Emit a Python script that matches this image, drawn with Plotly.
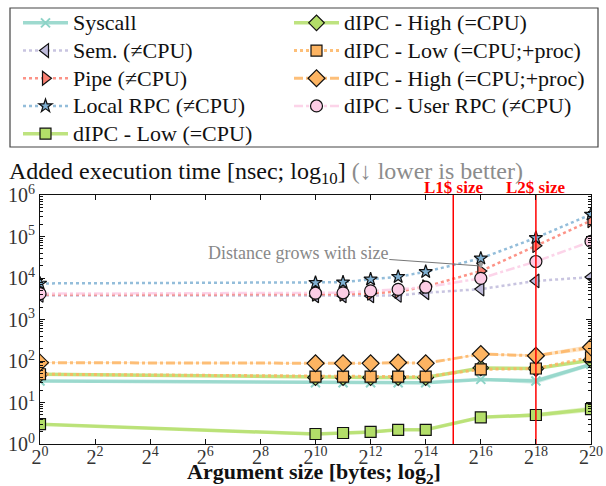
import math
import plotly.graph_objects as go

# ---------------- data ----------------
arg_sizes = [1, 1024, 2048, 4096, 8192, 16384, 65536, 262144, 1048576]

syscall        = [33, 30, 30, 30, 30, 30, 36, 33, 83]
sem            = [3800, 3700, 3700, 3700, 3800, 4400, 5400, 8500, 10500]
pipe           = [4000, 4050, 4050, 4250, 4700, 6200, 14700, 60000, 240000]
local_rpc      = [7400, 7700, 7900, 9300, 10700, 14100, 29700, 93000, 340000]
dipc_low       = [3.0, 1.74, 1.84, 1.95, 2.2, 2.2, 4.4, 5.0, 6.9]
dipc_high      = [48, 40, 40, 40, 40, 40, 68, 66, 105]
dipc_low_proc  = [48, 42, 42, 42, 42, 42, 63, 66, 123]
dipc_high_proc = [91, 88, 88, 88, 92, 88, 147, 134, 214]
user_rpc       = [4200, 4300, 4400, 4900, 5300, 6000, 9800, 25000, 76000]

# light confidence bands (lower / upper)
syscall_lo  = [32, 29.5, 29.5, 29.5, 29.5, 29.5, 34, 28, 74]
syscall_hi  = [34, 30.5, 30.5, 30.5, 30.5, 30.5, 38, 38, 92]
dipc_low_lo = [2.9, 1.6, 1.7, 1.75, 2.1, 2.1, 4.2, 4.4, 5.9]
dipc_low_hi = [3.2, 1.85, 1.95, 2.1, 2.3, 2.3, 4.6, 5.6, 8.0]
hp_lo       = [89, 86, 86, 86, 90, 86, 142, 125, 185]
hp_hi       = [93, 90, 90, 90, 94, 90, 152, 145, 245]

cache_lines = {"L1$ size": 2 ** 15, "L2$ size": 2 ** 18}

y_tick_exps = [0, 1, 2, 3, 4, 5, 6]
x_tick_exps = list(range(0, 21, 2))

# ---------------- style ----------------
FONT = "Liberation Serif"
C_TEAL = "#8dd3c7"
C_PURP = "#bebada"
C_RED = "#fb8072"
C_BLUE = "#80b1d3"
C_GREEN = "#b3de69"
C_ORANGE = "#fdb462"
C_PINK = "#fccde5"

W, H = 606, 486
ML, MR, MT, MB = 40, 15, 195, 42
PW, PH = W - ML - MR, H - MT - MB


def px_x(px):
    return (px - ML) / PW


def px_y(py):
    return (H - MB - py) / PH


def rgba(hexc, a):
    h = hexc.lstrip("#")
    return "rgba(%d,%d,%d,%.2f)" % (int(h[0:2], 16), int(h[2:4], 16), int(h[4:6], 16), a)


fig = go.Figure()


def band(lo, hi, color):
    fig.add_trace(go.Scatter(x=arg_sizes, y=lo, mode="lines", line=dict(width=0),
                             showlegend=False, hoverinfo="skip"))
    fig.add_trace(go.Scatter(x=arg_sizes, y=hi, mode="lines", line=dict(width=0),
                             fill="tonexty", fillcolor=rgba(color, 0.35),
                             showlegend=False, hoverinfo="skip"))


band(syscall_lo, syscall_hi, C_TEAL)
band(dipc_low_lo, dipc_low_hi, C_GREEN)
band(hp_lo, hp_hi, C_ORANGE)

series = [
    # name, values, color, dash, width, symbol, size, legend, rank
    ("Syscall", syscall, C_TEAL, "solid", 3.5, "x-thin", 9, "legend", 1),
    ("Sem. (≠CPU)", sem, C_PURP, "dot", 2.5, "triangle-left", 12, "legend", 2),
    ("Pipe (≠CPU)", pipe, C_RED, "dot", 2.5, "triangle-right", 12, "legend", 3),
    ("Local RPC (≠CPU)", local_rpc, C_BLUE, "dot", 2.5, "star", 10, "legend", 4),
    ("dIPC - Low (=CPU)", dipc_low, C_GREEN, "solid", 3.5, "square", 11, "legend", 5),
    ("dIPC - High (=CPU)", dipc_high, C_GREEN, "solid", 3.5, "diamond", 12, "legend2", 1),
    ("dIPC - Low (=CPU;+proc)", dipc_low_proc, C_ORANGE, "dot", 3, "square", 11, "legend2", 2),
    ("dIPC - High (=CPU;+proc)", dipc_high_proc, C_ORANGE, "dashdot", 3, "diamond", 13, "legend2", 3),
    ("dIPC - User RPC (≠CPU)", user_rpc, C_PINK, "dashdot", 2.5, "circle", 12, "legend2", 4),
]

for name, vals, color, dash, w, sym, sz, leg, rank in series:
    if sym == "x-thin":
        marker = dict(symbol=sym, size=sz, color=color, line=dict(width=2, color=color))
    else:
        marker = dict(symbol=sym, size=sz, color=color, line=dict(width=1.2, color="#111"))
    fig.add_trace(go.Scatter(
        x=arg_sizes, y=vals, mode="lines+markers",
        name="<span style='font-size:22px'>%s</span>" % name,
        line=dict(color=rgba(color, 0.85), width=w, dash=dash),
        marker=marker, legend=leg, legendrank=rank,
    ))

# cache size lines
for label, xv in cache_lines.items():
    fig.add_trace(go.Scatter(x=[xv, xv], y=[1, 1e6], mode="lines",
                             line=dict(color="#ff0000", width=1.5),
                             showlegend=False, hoverinfo="skip"))
    fig.add_annotation(x=math.log10(xv), y=1.0, xref="x", yref="paper",
                       yanchor="bottom", text="<b>%s</b>" % label, showarrow=False,
                       font=dict(family=FONT, size=17, color="#ff0000"),
                       xshift=0, yshift=-4)

# "distance grows" annotation
fig.add_annotation(x=math.log10(2 ** 16), y=4.29, xref="x", yref="y",
                   text="Distance grows with size", showarrow=True,
                   arrowhead=0, arrowwidth=1, arrowcolor="#777",
                   ax=-183, ay=-13, font=dict(family=FONT, size=18, color="#888"))
fig.add_annotation(x=math.log10(2 ** 16), y=4.22, xref="x", yref="y",
                   ax=math.log10(2 ** 16), ay=4.43, axref="x", ayref="y",
                   text="", showarrow=True, arrowhead=2, arrowsize=0.8,
                   arrowwidth=1.5, arrowcolor="#999")

# title
fig.add_annotation(x=px_x(7), y=px_y(173), xref="paper", yref="paper",
                   xanchor="left", yanchor="middle", showarrow=False,
                   text="Added execution time [nsec; log<sub>10</sub>] "
                        "<span style='color:#8c8c8c'>(↓ lower is better)</span>",
                   font=dict(family=FONT, size=24, color="#111"))

# x-axis title
fig.add_annotation(x=px_x(314), y=px_y(473), xref="paper", yref="paper",
                   xanchor="center", yanchor="middle", showarrow=False,
                   text="<b>Argument size [bytes; log<sub>2</sub>]</b>",
                   font=dict(family=FONT, size=22, color="#111"))

# legend frame
fig.add_shape(type="rect", xref="paper", yref="paper",
              x0=px_x(10), x1=px_x(598), y0=px_y(147), y1=px_y(8),
              line=dict(color="#444", width=1.2), fillcolor="rgba(0,0,0,0)")

minor_y = [m * 10 ** e for e in range(0, 6) for m in range(2, 10)]

fig.update_xaxes(
    type="log", range=[0, math.log10(2 ** 20)], automargin=False,
    tickvals=[2 ** e for e in x_tick_exps],
    ticktext=["2<sup>%d</sup>" % e for e in x_tick_exps],
    ticks="inside", ticklen=5, tickcolor="#111", mirror="allticks",
    ticklabelstandoff=-5,
    showline=True, linecolor="#111", linewidth=1, showgrid=False, zeroline=False,
    tickfont=dict(family=FONT, size=20, color="#333"),
)
fig.update_yaxes(
    type="log", range=[0, 6], automargin=False,
    tickvals=[10 ** e for e in y_tick_exps],
    ticktext=["10<sup>%d</sup>" % e for e in y_tick_exps],
    ticks="inside", ticklen=5, tickcolor="#111", mirror="allticks",
    minor=dict(tickvals=minor_y, ticks="inside", ticklen=3, tickcolor="#111", showgrid=False),
    showline=True, linecolor="#111", linewidth=1, showgrid=False, zeroline=False,
    tickfont=dict(family=FONT, size=20, color="#333"),
)

leg_common = dict(orientation="v", xanchor="left", yanchor="top", itemwidth=45,
                  traceorder="normal", borderwidth=0, bgcolor="rgba(0,0,0,0)",
                  font=dict(family=FONT, size=19, color="#111"))

fig.update_layout(
    width=W, height=H,
    margin=dict(l=ML, r=MR, t=MT, b=MB, autoexpand=False),
    paper_bgcolor="white", plot_bgcolor="white",
    font=dict(family=FONT, color="#111"),
    showlegend=True,
    legend=dict(x=px_x(18), y=px_y(4), **leg_common),
    legend2=dict(x=px_x(289), y=px_y(4), **leg_common),
)

fig.write_html("out.html")
